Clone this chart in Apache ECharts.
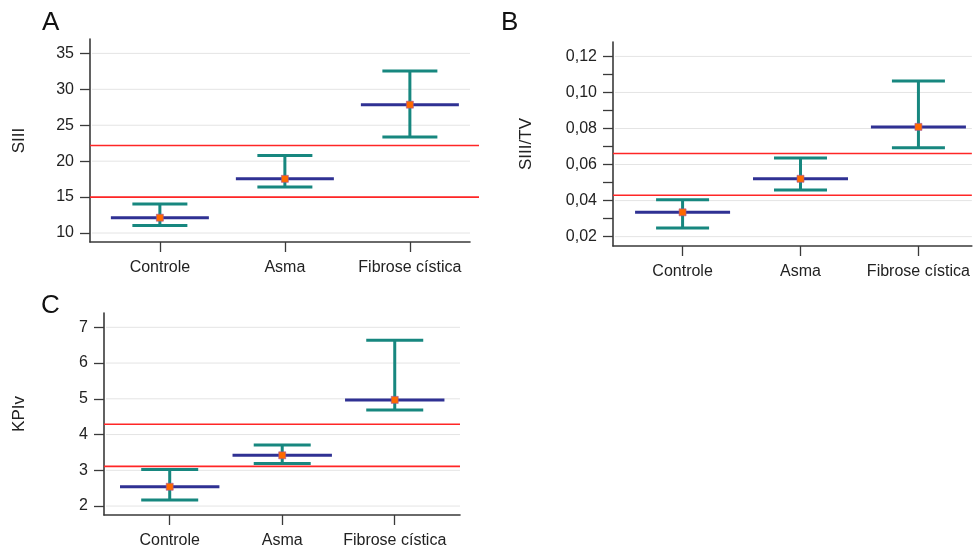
<!DOCTYPE html>
<html>
<head>
<meta charset="utf-8">
<script src="https://cdn.jsdelivr.net/npm/echarts@6/dist/echarts.min.js"></script>
<style>
html,body{margin:0;padding:0;background:#fff;}
#chart{width:973px;height:549px;}
</style>
</head>
<body>
<div id="chart"></div>
<script>
// ---- data ----
const categories = ['Controle', 'Asma', 'Fibrose cística'];
const catPos = [1, 2, 3];

const siiiMean  = [12.13, 17.54, 27.86];
const siiiLower = [11.06, 16.40, 23.37];
const siiiUpper = [14.03, 20.78, 32.54];
const siiiRef   = [15.0, 22.17];
const siiiTicks = [10, 15, 20, 25, 30, 35];

const siiiTvMean  = [0.0335, 0.0521, 0.0809];
const siiiTvLower = [0.0248, 0.0459, 0.0693];
const siiiTvUpper = [0.0404, 0.0637, 0.1063];
const siiiTvRef   = [0.043, 0.0661];
const siiiTvTicks = [0.02, 0.04, 0.06, 0.08, 0.10, 0.12];
const siiiTvMinorTicks = [0.02, 0.03, 0.04, 0.05, 0.06, 0.07, 0.08, 0.09, 0.10, 0.11, 0.12];

const kpivMean  = [2.54, 3.42, 4.97];
const kpivLower = [2.17, 3.19, 4.69];
const kpivUpper = [3.02, 3.71, 6.64];
const kpivRef   = [3.11, 4.29];
const kpivTicks = [2, 3, 4, 5, 6, 7];

// ---- styling ----
const TEAL = '#17877f', NAVY = '#2f3193', ORANGE = '#ff6a00', RED = '#ff2626', GRID = '#e4e4e4', AXIS = '#3a3a3a';
const FONT = '"Liberation Sans", Arial, Helvetica, sans-serif';

const panels = [
  {letter:'A', name:'SIII', grid:{left:90, top:39, width:380, height:203}, x:[0.441, 3.481], y:[8.75, 37.0],
   mean:siiiMean, lower:siiiLower, upper:siiiUpper, ref:siiiRef, ticks:siiiTicks, tickVals:siiiTicks,
   fmt:v=>String(v), meanHalf:49, capHalf:27.5, refExtra:9, nameGap:62, letterPos:[37,5]},
  {letter:'B', name:'SIII/TV', grid:{left:613, top:42, width:360, height:204}, x:[0.41, 3.453], y:[0.0148, 0.128],
   mean:siiiTvMean, lower:siiiTvLower, upper:siiiTvUpper, ref:siiiTvRef, ticks:siiiTvTicks, tickVals:siiiTvMinorTicks,
   fmt:v=>v.toFixed(2).replace('.', ','), meanHalf:47.5, capHalf:26.5, refExtra:0, nameGap:78, letterPos:[496,5]},
  {letter:'C', name:'KPIv', grid:{left:104, top:313, width:356, height:204}, x:[0.416, 3.58], y:[1.75, 7.4],
   mean:kpivMean, lower:kpivLower, upper:kpivUpper, ref:kpivRef, ticks:kpivTicks, tickVals:kpivTicks,
   fmt:v=>String(v), meanHalf:49.7, capHalf:28.5, refExtra:0, nameGap:76, letterPos:[36,288]}
];

const grids = [], xAxes = [], yAxes = [], series = [], titles = [];

panels.forEach((p, gi) => {
  grids.push(Object.assign({containLabel:false}, p.grid));
  titles.push({text:p.letter, left:p.letterPos[0], top:p.letterPos[1],
    textStyle:{fontFamily:FONT, fontSize:26, fontWeight:'normal', color:'#111'}});
  xAxes.push({
    type:'value', gridIndex:gi, min:p.x[0], max:p.x[1],
    axisLine:{show:true, onZero:false, lineStyle:{color:AXIS, width:1.6}},
    axisTick:{show:true, length:10, customValues:catPos, lineStyle:{color:AXIS, width:1.3}},
    axisLabel:{customValues:catPos, formatter:v=>categories[Math.round(v)-1], color:'#222', fontSize:16, fontFamily:FONT, margin:18},
    splitLine:{show:false}
  });
  yAxes.push({
    type:'value', gridIndex:gi, min:p.y[0], max:p.y[1],
    name:p.name, nameLocation:'middle', nameRotate:90, nameGap:p.nameGap,
    nameTextStyle:{color:'#222', fontSize:17, fontFamily:FONT},
    axisLine:{show:true, onZero:false, lineStyle:{color:AXIS, width:1.6}},
    axisTick:{show:true, length:10, customValues:p.tickVals, lineStyle:{color:AXIS, width:1.3}},
    axisLabel:{customValues:p.ticks, formatter:p.fmt, color:'#222', fontSize:16, fontFamily:FONT, margin:16},
    splitLine:{show:false}
  });
  // gridlines
  series.push({
    type:'custom', xAxisIndex:gi, yAxisIndex:gi, silent:true, z:1,
    data:p.ticks.map(v=>[p.x[0], v]),
    renderItem:(params, api)=>{
      const cs = params.coordSys;
      const y = api.coord([api.value(0), api.value(1)])[1];
      return {type:'line', shape:{x1:cs.x+2, y1:y, x2:cs.x+cs.width, y2:y}, style:{stroke:GRID, lineWidth:1}};
    }
  });
  // reference lines
  series.push({
    type:'custom', xAxisIndex:gi, yAxisIndex:gi, silent:true, z:2, clip:false,
    data:p.ref.map(v=>[p.x[0], v]),
    renderItem:(params, api)=>{
      const cs = params.coordSys;
      const y = api.coord([api.value(0), api.value(1)])[1];
      return {type:'line', shape:{x1:cs.x, y1:y, x2:cs.x+cs.width+p.refExtra, y2:y}, style:{stroke:RED, lineWidth:1.6}};
    }
  });
  // error bars + mean
  series.push({
    type:'custom', xAxisIndex:gi, yAxisIndex:gi, z:3,
    data:catPos.map((c,i)=>[c, p.mean[i], p.lower[i], p.upper[i]]),
    renderItem:(params, api)=>{
      const x = api.value(0);
      const pm = api.coord([x, api.value(1)]);
      const pl = api.coord([x, api.value(2)]);
      const pu = api.coord([x, api.value(3)]);
      const cx = pm[0];
      const tealStyle = {stroke:TEAL, lineWidth:3};
      return {type:'group', children:[
        {type:'line', shape:{x1:cx, y1:pu[1], x2:cx, y2:pl[1]}, style:tealStyle},
        {type:'line', shape:{x1:cx-p.capHalf, y1:pu[1], x2:cx+p.capHalf, y2:pu[1]}, style:tealStyle},
        {type:'line', shape:{x1:cx-p.capHalf, y1:pl[1], x2:cx+p.capHalf, y2:pl[1]}, style:tealStyle},
        {type:'line', shape:{x1:cx-p.meanHalf, y1:pm[1], x2:cx+p.meanHalf, y2:pm[1]}, style:{stroke:NAVY, lineWidth:3}},
        {type:'rect', shape:{x:cx-3.5, y:pm[1]-3.5, width:7, height:7}, style:{fill:ORANGE, stroke:'#a0509a', lineWidth:0.6}}
      ]};
    }
  });
});

const chart = echarts.init(document.getElementById('chart'), null, {renderer:'canvas'});
chart.setOption({
  animation:false,
  backgroundColor:'#fff',
  title:titles,
  grid:grids,
  xAxis:xAxes,
  yAxis:yAxes,
  series:series
});
</script>
</body>
</html>
